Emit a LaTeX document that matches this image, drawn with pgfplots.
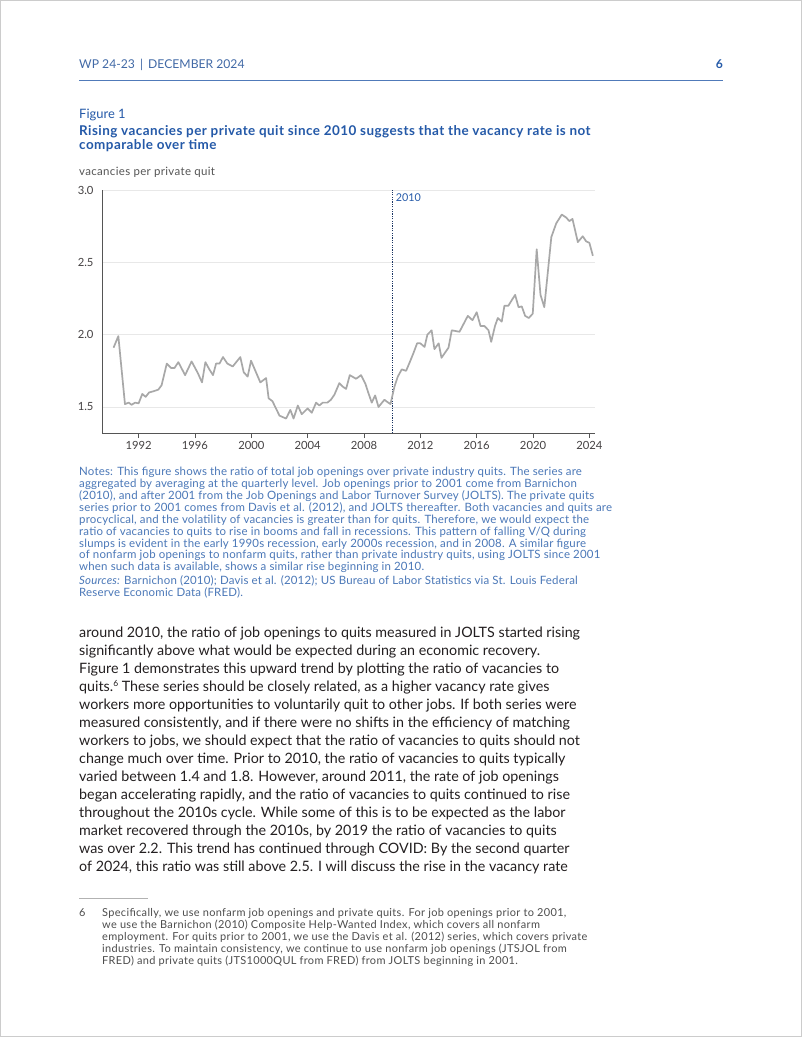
\documentclass[border=0pt]{standalone}
\usepackage{fontspec}
\setmainfont{Lato}
\usepackage{pgfplots}
\pgfplotsset{compat=1.18}
\definecolor{headblue}{HTML}{4169A6}
\definecolor{titleblue}{HTML}{2459A8}
\definecolor{notesblue}{HTML}{4B78B8}
\definecolor{bodytext}{HTML}{231F20}
\definecolor{fngray}{HTML}{4D4D4D}
\definecolor{seriesgray}{HTML}{A8A8A8}
\definecolor{gridgray}{HTML}{E8E8E8}
\definecolor{axisgray}{HTML}{555555}
\definecolor{navy}{HTML}{1B3564}

% one line of text per node, baseline given in page pixels (y down)
\newcommand{\tl}[4]{\node[anchor=base west,inner sep=0pt,font=#1] at (#2,-#3) {#4};}

\begin{document}
\begin{tikzpicture}[x=1bp,y=1bp]
\fill[white] (0,0) rectangle (802,-1037);
\draw[gray!40,line width=0.8bp] (0.4,-0.4) rectangle (801.6,-1036.6);

% running head
\begin{scope}[text=headblue]
\tl{\fontsize{12.2}{14}\selectfont}{79}{68}{WP 24-23 \,|\, DECEMBER 2024}
\node[anchor=base east,inner sep=0pt,font=\fontsize{12.2}{14}\selectfont\bfseries,text=titleblue] at (723,-68) {6};
\end{scope}
\draw[titleblue!80,line width=0.9bp] (79,-80) -- (723,-80);

% figure heading
\begin{scope}[text=titleblue]
\tl{\fontsize{13}{15}\selectfont}{79}{118}{Figure 1}
\def\tf{\fontsize{13.5}{15}\selectfont\bfseries\addfontfeatures{LetterSpace=3.4}}
\tl{\tf}{79}{135}{Rising vacancies per private quit since 2010 suggests that the vacancy rate is not}
\tl{\tf}{79}{149}{comparable over time}
\end{scope}
\tl{\fontsize{11.5}{13}\selectfont\addfontfeatures{LetterSpace=3}\color{axisgray}}{79}{175}{vacancies per private quit}

\begin{axis}[
  at={(102bp,-433bp)}, anchor=south west,
  scale only axis, width=493bp, height=243bp,
  xmin=1989.4, xmax=2024.4, ymin=1.32, ymax=3.0,
  axis x line*=bottom, axis y line*=left,
  axis line style={-,draw=axisgray,line width=0.8bp},
  xtick={1992,1996,...,2024}, ytick={1.5,2.0,2.5,3.0},
  tick align=outside, major tick length=5bp,
  x tick style={draw=axisgray,line width=0.8bp},
  y tick style={draw=none},
  /pgf/number format/assume math mode=true,
  xticklabel style={/pgf/number format/1000 sep={}},
  yticklabel style={/pgf/number format/.cd,fixed,fixed zerofill,precision=1},
  tick label style={font=\fontsize{11.3}{13}\selectfont,text=bodytext!85},
  ymajorgrids, grid style={draw=gridgray,line width=0.8bp},
]
\draw[navy,line width=0.8bp,dash pattern=on 1.2bp off 1.2bp] (axis cs:2010,1.32) -- (axis cs:2010,3.0);
\node[anchor=west,inner sep=0pt,font=\fontsize{10.8}{12}\selectfont,text=titleblue] at (axis cs:2010.25,2.95) {2010};
\addplot[color=seriesgray,line width=1.7bp,line join=round] coordinates {
(1990.22,1.91) (1990.56,1.99) (1991.03,1.52) (1991.3,1.53) (1991.5,1.515) (1991.75,1.53)
(1992.0,1.525) (1992.26,1.59) (1992.5,1.57) (1992.74,1.60) (1993.1,1.61) (1993.4,1.62)
(1993.63,1.65) (1994.0,1.80) (1994.3,1.77) (1994.55,1.77) (1994.82,1.81) (1995.3,1.72)
(1995.76,1.815) (1996.2,1.735) (1996.5,1.67) (1996.74,1.81) (1997.02,1.76) (1997.28,1.72)
(1997.5,1.80) (1997.74,1.80) (1997.99,1.845) (1998.3,1.80) (1998.68,1.78) (1999.22,1.845)
(1999.46,1.74) (1999.74,1.71) (1999.98,1.82) (2000.64,1.67) (2001.05,1.70) (2001.23,1.56)
(2001.5,1.54) (2002.0,1.44) (2002.47,1.42) (2002.77,1.48) (2003.0,1.42) (2003.3,1.51)
(2003.58,1.45) (2004.0,1.49) (2004.29,1.46) (2004.6,1.53) (2004.83,1.51) (2005.07,1.53)
(2005.4,1.53) (2005.65,1.55) (2005.9,1.585) (2006.25,1.665) (2006.5,1.64) (2006.73,1.625)
(2006.99,1.72) (2007.44,1.695) (2007.79,1.72) (2008.1,1.66) (2008.3,1.60) (2008.55,1.53)
(2008.79,1.58) (2009.03,1.50) (2009.45,1.55) (2009.65,1.535) (2009.88,1.52) (2010.16,1.64)
(2010.4,1.71) (2010.68,1.76) (2010.99,1.75) (2011.25,1.81) (2011.5,1.87) (2011.77,1.94)
(2012.0,1.94) (2012.3,1.915) (2012.5,2.00) (2012.8,2.03) (2013.0,1.90) (2013.3,1.94)
(2013.5,1.84) (2014.0,1.91) (2014.23,2.03) (2014.78,2.02) (2015.37,2.13) (2015.7,2.10)
(2016.0,2.155) (2016.27,2.06) (2016.55,2.06) (2016.84,2.03) (2017.03,1.95) (2017.3,2.06)
(2017.5,2.115) (2017.78,2.09) (2017.97,2.20) (2018.25,2.20) (2018.5,2.24) (2018.73,2.275)
(2018.97,2.19) (2019.2,2.195) (2019.44,2.13) (2019.7,2.115) (2019.98,2.145) (2020.26,2.59)
(2020.53,2.275) (2020.8,2.19) (2021.3,2.675) (2021.65,2.77) (2022.04,2.83) (2022.35,2.81)
(2022.58,2.785) (2022.8,2.80) (2023.18,2.64) (2023.53,2.68) (2023.77,2.645) (2024.0,2.635)
(2024.25,2.545)
};
\end{axis}

% notes and sources
\begin{scope}[text=notesblue]
\def\nf{\fontsize{11.5}{12}\selectfont\addfontfeatures{LetterSpace=1.7}}
\tl{\nf}{79}{475}{Notes: This figure shows the ratio of total job openings over private industry quits. The series are}
\tl{\nf}{79}{487}{aggregated by averaging at the quarterly level. Job openings prior to 2001 come from Barnichon}
\tl{\nf}{79}{499}{(2010), and after 2001 from the Job Openings and Labor Turnover Survey (JOLTS). The private quits}
\tl{\nf}{79}{511}{series prior to 2001 comes from Davis et al. (2012), and JOLTS thereafter. Both vacancies and quits are}
\tl{\nf}{79}{523}{procyclical, and the volatility of vacancies is greater than for quits. Therefore, we would expect the}
\tl{\nf}{79}{535}{ratio of vacancies to quits to rise in booms and fall in recessions. This pattern of falling V/Q during}
\tl{\nf}{79}{547}{slumps is evident in the early 1990s recession, early 2000s recession, and in 2008. A similar figure}
\tl{\nf}{79}{558}{of nonfarm job openings to nonfarm quits, rather than private industry quits, using JOLTS since 2001}
\tl{\nf}{79}{570}{when such data is available, shows a similar rise beginning in 2010.}
\tl{\nf}{79}{584}{{\itshape\addfontfeatures{LetterSpace=1.7}Sources:} Barnichon (2010); Davis et al. (2012); US Bureau of Labor Statistics via St. Louis Federal}
\tl{\nf}{79}{596}{Reserve Economic Data (FRED).}
\end{scope}

% body text
\begin{scope}[text=bodytext]
\def\bft{\fontsize{14.35}{18}\selectfont}
\tl{\bft}{79}{637}{around 2010, the ratio of job openings to quits measured in JOLTS started rising}
\tl{\bft}{79}{655}{significantly above what would be expected during an economic recovery.}
\tl{\bft}{79}{673}{Figure 1 demonstrates this upward trend by plotting the ratio of vacancies to}
\tl{\bft}{79}{691}{quits.{\fontsize{8.5}{8}\selectfont\raisebox{4.5bp}{6}} These series should be closely related, as a higher vacancy rate gives}
\tl{\bft}{79}{709}{workers more opportunities to voluntarily quit to other jobs. If both series were}
\tl{\bft}{79}{727}{measured consistently, and if there were no shifts in the efficiency of matching}
\tl{\bft}{79}{745}{workers to jobs, we should expect that the ratio of vacancies to quits should not}
\tl{\bft}{79}{763}{change much over time. Prior to 2010, the ratio of vacancies to quits typically}
\tl{\bft}{79}{781}{varied between 1.4 and 1.8. However, around 2011, the rate of job openings}
\tl{\bft}{79}{799}{began accelerating rapidly, and the ratio of vacancies to quits continued to rise}
\tl{\bft}{79}{817}{throughout the 2010s cycle. While some of this is to be expected as the labor}
\tl{\bft}{79}{835}{market recovered through the 2010s, by 2019 the ratio of vacancies to quits}
\tl{\bft}{79}{853}{was over 2.2. This trend has continued through COVID: By the second quarter}
\tl{\bft}{79}{871}{of 2024, this ratio was still above 2.5. I will discuss the rise in the vacancy rate}
\end{scope}

% footnote
\draw[gray!60,line width=0.6bp] (79,-898) -- (148,-898);
\begin{scope}[text=fngray]
\def\ff{\fontsize{11}{12}\selectfont\addfontfeatures{LetterSpace=3.1}}
\tl{\ff}{79}{916}{6}
\tl{\ff}{102}{916}{Specifically, we use nonfarm job openings and private quits. For job openings prior to 2001,}
\tl{\ff}{102}{928}{we use the Barnichon (2010) Composite Help-Wanted Index, which covers all nonfarm}
\tl{\ff}{102}{940}{employment. For quits prior to 2001, we use the Davis et al. (2012) series, which covers private}
\tl{\ff}{102}{952}{industries. To maintain consistency, we continue to use nonfarm job openings (JTSJOL from}
\tl{\ff}{102}{964}{FRED) and private quits (JTS1000QUL from FRED) from JOLTS beginning in 2001.}
\end{scope}
\end{tikzpicture}
\end{document}
